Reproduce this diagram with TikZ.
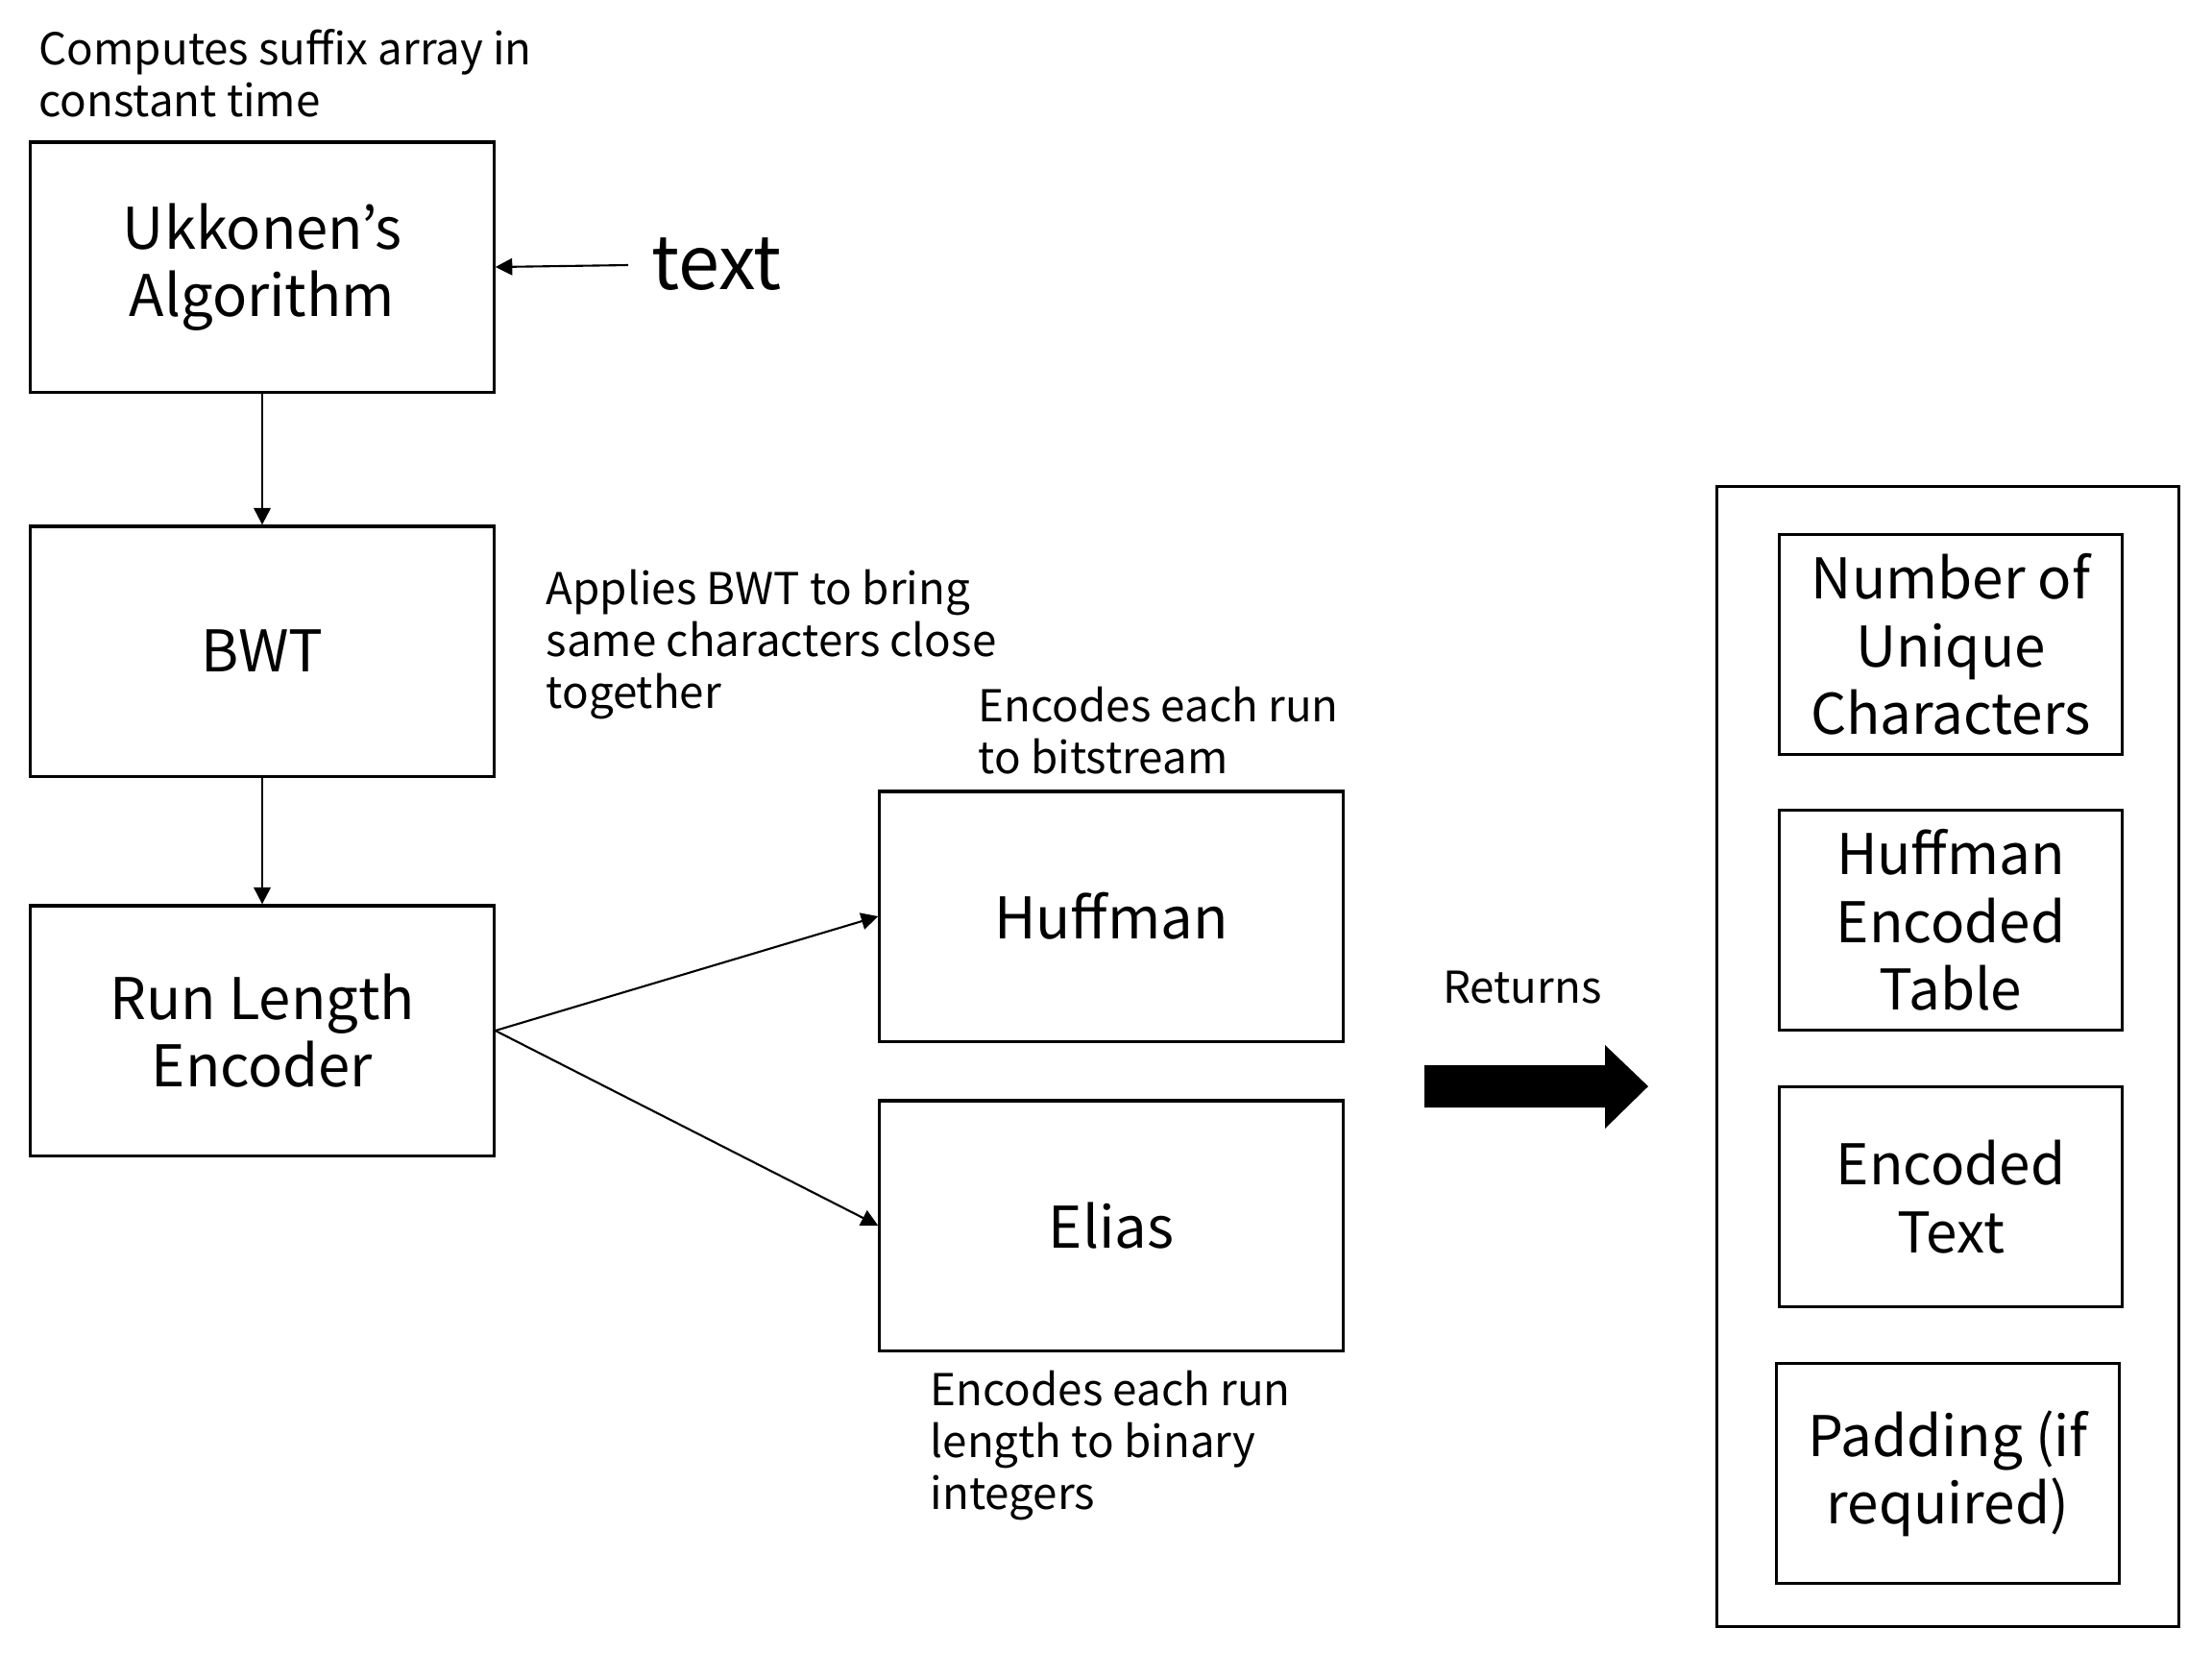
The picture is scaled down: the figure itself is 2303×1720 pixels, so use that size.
\documentclass[tikz,border=0pt]{standalone}
\usepackage{fontspec}
\setmainfont{Noto Sans CJK JP}
\usetikzlibrary{arrows.meta}

\begin{document}
\begin{tikzpicture}[x=0.01cm, y=-0.01cm,
		block/.style={draw, line width=0.9pt, minimum width=4.82cm, minimum height=2.6cm, inner sep=0pt, align=center, font=\fontsize{17}{20}\selectfont},
		part/.style={draw, line width=0.9pt, minimum width=3.57cm, minimum height=2.29cm, inner sep=0pt, align=center, font=\fontsize{16.6}{20}\selectfont},
		note/.style={anchor=north west, inner sep=0pt, align=left, font=\fontsize{13}{15.4}\selectfont},
		link/.style={-{Triangle[length=5pt, width=5pt]}, line width=0.6pt}]

		\useasboundingbox (0,0) rectangle (2303,1720);

		\node[block] (ukk) at (273,278) {Ukkonen’s\\Algorithm};
		\node[block] (bwt) at (273,678) {BWT};
		\node[block] (rle) at (273,1073) {Run Length\\Encoder};
		\node[block] (huff) at (1157,954) {Huffman};
		\node[block] (elias) at (1157,1276) {Elias};

		\node[inner sep=0pt, font=\fontsize{22}{26}\selectfont] (input) at (746,275) {text};
		\coordinate (inputend) at (654,276);

		\node[note] (ukknote) at (40,30) {Computes suffix array in\\constant time};
		\node[note] (bwtnote) at (568,592) {Applies BWT to bring\\same characters close\\together};
		\node[note] (huffnote) at (1018,714) {Encodes each run\\to bitstream};
		\node[note] (eliasnote) at (968,1426) {Encodes each run\\length to binary\\integers};

		\draw[link] (inputend) -- (ukk.east);
		\draw[link] (ukk) -- (bwt);
		\draw[link] (bwt) -- (rle);
		\draw[link] (rle.east) -- (huff.west);
		\draw[link] (rle.east) -- (elias.west);

		\node[font=\fontsize{13}{15.4}\selectfont, inner sep=0pt] (ret) at (1585,1028) {Returns};
		\fill (1483,1109) -- (1671,1109) -- (1671,1088) -- (1716,1131) -- (1671,1175) -- (1671,1153) -- (1483,1153) -- cycle;

		\node[draw, line width=0.9pt, minimum width=4.81cm, minimum height=11.86cm] (out) at (2028,1100) {};
		\node[part] (uniq) at (2031,671) {Number of\\Unique\\Characters};
		\node[part] (table) at (2031,958) {Huffman\\Encoded\\Table};
		\node[part] (enc) at (2031,1246) {Encoded\\Text};
		\node[part] (pad) at (2028,1534) {Padding (if\\required)};
	\end{tikzpicture}
\end{document}
